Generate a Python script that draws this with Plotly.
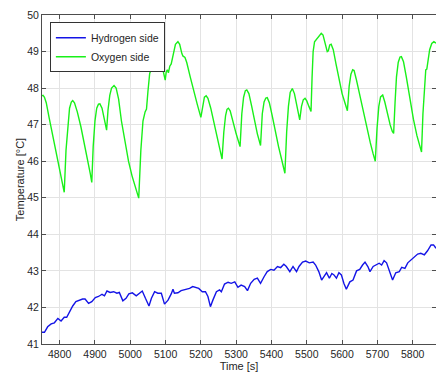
import plotly.graph_objects as go

# Oxygen side (green) - time [s], temperature [°C]
oxy_t = [4750, 4753, 4757, 4762, 4770, 4780, 4790, 4800, 4808, 4813,
         4818, 4823, 4828, 4833, 4837, 4842, 4850, 4860, 4870, 4880, 4887, 4891,
         4895, 4900, 4905, 4910, 4914, 4920, 4927, 4933, 4937, 4942, 4947, 4954,
         4960, 4967, 4975, 4985, 4995, 5005, 5015, 5024,
         5030, 5036, 5042, 5046, 5050, 5055, 5059, 5063, 5067, 5072, 5076, 5081,
         5088, 5095, 5099, 5102, 5105, 5108, 5112, 5116, 5122, 5128, 5135, 5140,
         5146, 5149, 5155, 5160, 5170, 5180, 5190, 5200,
         5205, 5210, 5215, 5220, 5228, 5238, 5248, 5255, 5260,
         5265, 5270, 5274, 5278, 5283, 5290, 5300, 5311,
         5316, 5321, 5326, 5330, 5336, 5344, 5352, 5360, 5369,
         5374, 5379, 5384, 5388, 5394, 5402, 5410, 5420, 5430, 5438,
         5443, 5448, 5453, 5459, 5465, 5472, 5480, 5485, 5490, 5495, 5500, 5506,
         5512, 5515, 5518, 5522, 5527, 5531, 5536, 5541, 5546, 5553, 5558, 5561,
         5565, 5569, 5575, 5583, 5592, 5600, 5608, 5615,
         5620, 5625, 5630, 5634, 5640, 5650, 5660, 5670, 5680, 5688, 5694,
         5699, 5704, 5709, 5715, 5721, 5728, 5736, 5742, 5746,
         5750, 5754, 5759, 5764, 5768, 5774, 5782, 5792, 5802, 5812, 5820, 5825,
         5829, 5833, 5837, 5840, 5843, 5848, 5854, 5860, 5866]
oxy_T = [47.79, 47.80, 47.75, 47.60, 47.20, 46.70, 46.20, 45.80, 45.40, 45.15,
         46.30, 47.00, 47.45, 47.62, 47.66, 47.60, 47.35, 46.95, 46.50, 46.00, 45.65, 45.42,
         46.40, 47.10, 47.45, 47.56, 47.57, 47.45, 47.15, 46.85, 47.40, 47.80, 48.00, 48.07,
         48.00, 47.70, 47.10, 46.50, 46.00, 45.60, 45.25, 44.99,
         46.30, 47.10, 47.35, 47.43, 47.90, 48.40, 48.50, 48.60, 48.85, 49.00, 49.04, 48.95,
         48.70, 48.35, 48.22, 48.45, 48.50, 48.42, 48.60, 48.66, 48.90, 49.20, 49.27, 49.20,
         48.95, 48.88, 48.84, 48.70, 48.30, 47.90, 47.55, 47.20,
         47.55, 47.75, 47.79, 47.72, 47.45, 47.00, 46.55, 46.25, 46.06,
         46.80, 47.25, 47.42, 47.45, 47.38, 47.10, 46.75, 46.40,
         47.30, 47.75, 47.93, 47.95, 47.85, 47.50, 47.10, 46.75, 46.43,
         47.30, 47.62, 47.73, 47.74, 47.60, 47.25, 46.85, 46.40, 46.00, 45.67,
         46.80, 47.50, 47.88, 47.99, 47.85, 47.50, 47.13, 47.50, 47.68, 47.72, 47.65, 47.50,
         47.36, 48.30, 49.00, 49.27, 49.33, 49.38, 49.45, 49.50, 49.45, 49.20, 49.00, 49.02,
         49.18, 49.20, 49.05, 48.65, 48.20, 47.85, 47.60, 47.38,
         48.05, 48.38, 48.50, 48.48, 48.25, 47.80, 47.35, 46.90, 46.50, 46.20, 46.00,
         46.90, 47.50, 47.76, 47.81, 47.62, 47.30, 47.00, 46.82, 46.76,
         47.60, 48.30, 48.70, 48.85, 48.86, 48.72, 48.30, 47.70, 47.15, 46.70, 46.40, 46.25,
         47.30, 48.00, 48.50, 48.52, 48.70, 49.05, 49.22, 49.27, 49.23]

# Hydrogen side (blue)
hyd_t = [4750, 4757, 4766, 4776, 4785, 4795, 4804, 4813, 4820, 4828, 4837, 4846,
         4856, 4865, 4872, 4882, 4891, 4901, 4910, 4920, 4927, 4934, 4943, 4953,
         4962, 4969, 4979, 4988, 4996, 5006, 5017, 5026, 5034, 5043, 5053, 5060,
         5069, 5078, 5088, 5097, 5107, 5116, 5121, 5125, 5135, 5144, 5151, 5158,
         5168, 5177, 5187, 5194, 5204, 5213, 5220, 5227, 5234, 5244, 5253, 5258,
         5267, 5277, 5286, 5296, 5305, 5314, 5324, 5332, 5341, 5351, 5360, 5369,
         5379, 5388, 5398, 5407, 5417, 5426, 5435, 5442, 5452, 5461, 5471, 5478,
         5488, 5497, 5507, 5518, 5525, 5534, 5542, 5549, 5556, 5564, 5571, 5577,
         5584, 5591, 5598, 5605, 5612, 5622, 5631, 5641, 5650, 5658, 5665, 5673,
         5679, 5688, 5697, 5705, 5712, 5719, 5726, 5733, 5743, 5752, 5762, 5769,
         5778, 5786, 5795, 5804, 5814, 5823, 5833, 5842, 5852, 5859, 5866]
hyd_T = [41.32, 41.32, 41.47, 41.55, 41.58, 41.70, 41.63, 41.73, 41.73, 41.88, 42.04, 42.16,
         42.20, 42.23, 42.23, 42.11, 42.16, 42.27, 42.30, 42.36, 42.32, 42.45, 42.41, 42.43,
         42.39, 42.41, 42.18, 42.25, 42.37, 42.40, 42.32, 42.39, 42.45, 42.25, 42.04, 42.25,
         42.43, 42.39, 42.39, 42.09, 42.20, 42.37, 42.50, 42.39, 42.40, 42.46, 42.48, 42.48,
         42.52, 42.57, 42.55, 42.52, 42.43, 42.43, 42.30, 42.02, 42.20, 42.43, 42.48, 42.43,
         42.64, 42.69, 42.66, 42.70, 42.55, 42.61, 42.57, 42.46, 42.66, 42.77, 42.80, 42.66,
         42.84, 42.98, 43.04, 43.02, 43.12, 43.09, 43.18, 43.12, 42.98, 43.12, 42.98, 43.12,
         43.24, 43.27, 43.22, 43.24, 43.16, 42.98, 42.75, 42.84, 42.95, 42.80, 42.93, 42.89,
         42.80, 42.95, 42.89, 42.66, 42.50, 42.70, 42.75, 43.00, 43.04, 43.16, 43.24, 43.12,
         42.98, 43.12, 43.16, 43.21, 43.16, 43.28, 43.22, 43.02, 42.75, 42.95, 42.98, 43.10,
         43.07, 43.22, 43.30, 43.39, 43.46, 43.48, 43.44, 43.55, 43.71, 43.71, 43.62]

x_ticks = [4800, 4900, 5000, 5100, 5200, 5300, 5400, 5500, 5600, 5700, 5800]
y_ticks = [41, 42, 43, 44, 45, 46, 47, 48, 49, 50]

FONT = "Liberation Sans, Arial, sans-serif"
AX = "#4d4d4d"
GRID = "#e3e3e3"

fig = go.Figure()
fig.add_trace(go.Scatter(x=hyd_t, y=hyd_T, mode="lines", name="Hydrogen side",
                         line=dict(color="#1414e6", width=1.4)))
fig.add_trace(go.Scatter(x=oxy_t, y=oxy_T, mode="lines", name="Oxygen side",
                         line=dict(color="#19f019", width=1.4)))

fig.update_layout(
    width=436, height=374,
    margin=dict(l=42, r=0, t=15, b=30),
    paper_bgcolor="white", plot_bgcolor="white",
    font=dict(family=FONT, size=10.5, color="#262626"),
    showlegend=True,
    legend=dict(x=0.02, y=0.978, xanchor="left", yanchor="top",
                bgcolor="white", bordercolor="#333333", borderwidth=1,
                font=dict(size=10.5, color="#262626"),
                tracegroupgap=0, itemwidth=30),
    xaxis=dict(range=[4750, 5866], tickvals=x_ticks, showgrid=True, gridcolor=GRID,
               gridwidth=1, showline=True, linecolor=AX, linewidth=1, mirror="ticks",
               ticks="inside", ticklen=4, tickcolor=AX, zeroline=False,
               title=dict(text="Time [s]", standoff=3, font=dict(size=11)),
               automargin=False),
    yaxis=dict(range=[41, 50], tickvals=y_ticks, showgrid=True, gridcolor=GRID,
               gridwidth=1, showline=True, linecolor=AX, linewidth=1, mirror="ticks",
               ticks="inside", ticklen=4, tickcolor=AX, zeroline=False,
               title=dict(text="Temperature [°C]", standoff=0, font=dict(size=11)),
               automargin=False),
)

fig.write_html("out.html")
